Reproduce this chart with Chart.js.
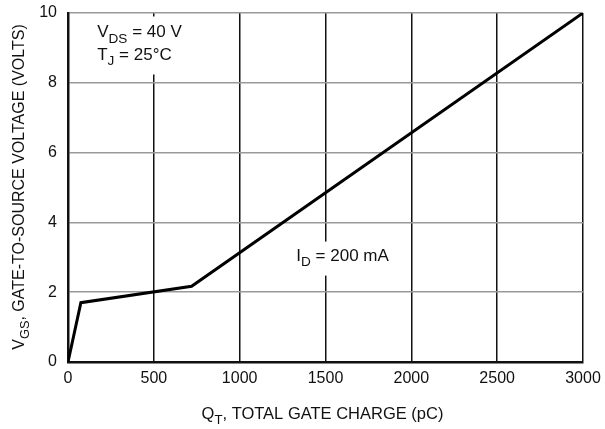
<!DOCTYPE html>
<html>
<head>
<meta charset="utf-8">
<script src="https://cdn.jsdelivr.net/npm/chart.js@4"></script>
<style>
  html, body { margin: 0; padding: 0; background: #fff; }
  #wrap { width: 605px; height: 429px; }
</style>
</head>
<body>
<div id="wrap"><canvas id="gateChart" width="605" height="429"></canvas></div>
<script>
// Данные с графика
const chargePc = [0, 75, 720, 3000];
const gateVolts = [0, 1.7, 2.17, 10];
const xTicks = [0, 500, 1000, 1500, 2000, 2500, 3000];
const yTicks = [0, 2, 4, 6, 8, 10];

const FONT = "'Liberation Sans Narrow', 'Liberation Sans', Arial, sans-serif";

// текст с подстрочными индексами: [[текст, подстрочный?], ...]
function drawParts(ctx, parts, x, y, size, align) {
  const total = parts.reduce((w, p) => {
    ctx.font = (p[1] ? size * 0.8 : size) + 'px ' + FONT;
    return w + ctx.measureText(p[0]).width;
  }, 0);
  let cx = align === 'center' ? x - total / 2 : x;
  parts.forEach(p => {
    ctx.font = (p[1] ? size * 0.8 : size) + 'px ' + FONT;
    ctx.fillText(p[0], cx, p[1] ? y + size * 0.3 : y);
    cx += ctx.measureText(p[0]).width;
  });
  return total;
}

const labelsPlugin = {
  id: 'labels',
  beforeDatasetsDraw(chart) {
    const ctx = chart.ctx;
    const xs = chart.scales.x, ys = chart.scales.y;
    ctx.save();
    ctx.textBaseline = 'alphabetic';
    ctx.textAlign = 'left';
    // белая подложка под надписи (прерывает вертикальные линии сетки)
    ctx.fillStyle = '#fff';
    ctx.fillRect(xs.getPixelForValue(150), ys.getPixelForValue(9.9), 120, 58);
    ctx.fillRect(xs.getPixelForValue(1300), ys.getPixelForValue(3.45), 110, 34);
    ctx.fillStyle = '#111';
    drawParts(ctx, [['V', false], ['DS', true], [' = 40 V', false]],
      xs.getPixelForValue(170), ys.getPixelForValue(9.3), 17);
    drawParts(ctx, [['T', false], ['J', true], [' = 25°C', false]],
      xs.getPixelForValue(170), ys.getPixelForValue(8.65), 17);
    drawParts(ctx, [['I', false], ['D', true], [' = 200 mA', false]],
      xs.getPixelForValue(1330), ys.getPixelForValue(2.9), 17);
    ctx.restore();
  },
  afterDraw(chart) {
    const ctx = chart.ctx;
    const area = chart.chartArea;
    ctx.save();
    ctx.fillStyle = '#111';
    ctx.textBaseline = 'alphabetic';
    drawParts(ctx, [['Q', false], ['T', true], [', TOTAL GATE CHARGE (pC)', false]],
      (area.left + area.right) / 2 - 3, 419, 16.5, 'center');
    ctx.translate(24, 187);
    ctx.rotate(-Math.PI / 2);
    drawParts(ctx, [['V', false], ['GS', true], [', GATE-TO-SOURCE VOLTAGE (VOLTS)', false]],
      0, 0, 16, 'center');
    ctx.restore();
  }
};

new Chart(document.getElementById('gateChart'), {
  type: 'scatter',
  data: {
    datasets: [{
      data: chargePc.map((q, i) => ({ x: q, y: gateVolts[i] })),
      showLine: true,
      borderColor: '#000',
      borderWidth: 3,
      pointRadius: 0,
      tension: 0
    }]
  },
  plugins: [labelsPlugin],
  options: {
    responsive: false,
    animation: false,
    layout: { padding: { top: 13, right: 22, left: 0, bottom: 0 } },
    plugins: { legend: { display: false }, tooltip: { enabled: false } },
    scales: {
      x: {
        type: 'linear',
        min: 0, max: 3000,
        afterBuildTicks: s => { s.ticks = xTicks.map(v => ({ value: v })); },
        afterFit: s => { s.height = 67; s.paddingLeft = 0; s.paddingRight = 0; },
        ticks: { color: '#111', font: { family: FONT, size: 16 }, padding: 7, maxRotation: 0,
                 callback: v => String(v) },
        grid: { color: '#111', lineWidth: 1.5, drawTicks: false },
        border: { color: '#111', width: 2.5 }
      },
      y: {
        min: 0, max: 10,
        afterBuildTicks: s => { s.ticks = yTicks.map(v => ({ value: v })); },
        afterFit: s => { s.width = 68; s.paddingTop = 0; s.paddingBottom = 0; },
        ticks: { color: '#111', font: { family: FONT, size: 16 }, padding: 11,
                 callback: v => String(v) },
        grid: { color: '#999', lineWidth: 1.5, drawTicks: false },
        border: { color: '#111', width: 2.5 }
      }
    }
  }
});
</script>
</body>
</html>
